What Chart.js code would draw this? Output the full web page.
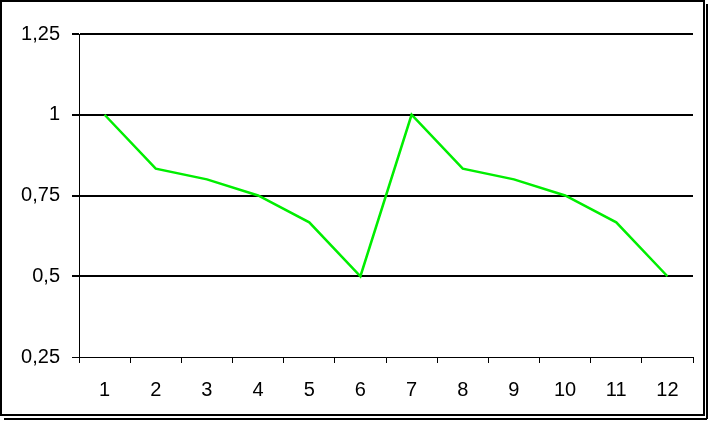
<!DOCTYPE html>
<html>
<head>
<meta charset="utf-8">
<script src="https://cdn.jsdelivr.net/npm/chart.js@4/dist/chart.umd.min.js"></script>
<style>
html,body{margin:0;padding:0;background:#fff;}
#wrap{position:relative;width:708px;height:426px;}
canvas{display:block;}
</style>
</head>
<body>
<div id="wrap"><canvas id="c" width="708" height="426"></canvas></div>
<script>
const categories = ['1','2','3','4','5','6','7','8','9','10','11','12'];
const values = [1, 0.833, 0.8, 0.75, 0.667, 0.5, 1, 0.833, 0.8, 0.75, 0.667, 0.5];
const yTicks = [0.25, 0.5, 0.75, 1, 1.25];

const frame = {
  id: 'frame',
  afterDraw(chart) {
    const ctx = chart.ctx;
    ctx.save();
    ctx.strokeStyle = '#000';
    ctx.lineWidth = 2;
    ctx.strokeRect(1, 1, 703, 414);
    ctx.beginPath();
    ctx.moveTo(4, 419); ctx.lineTo(707, 419);
    ctx.moveTo(707, 4); ctx.lineTo(707, 419);
    ctx.stroke();
    ctx.restore();
  }
};

const FONT = { family: 'Liberation Sans, Arial, sans-serif', size: 20 };

new Chart(document.getElementById('c'), {
  type: 'line',
  data: {
    labels: categories,
    datasets: [{
      data: values,
      borderColor: '#00ee00',
      borderWidth: 2.5,
      pointRadius: 0,
      tension: 0,
      fill: false
    }]
  },
  options: {
    responsive: false,
    animation: false,
    devicePixelRatio: 1,
    layout: { padding: { left: 0, right: 15, top: 34, bottom: 9 } },
    plugins: { legend: { display: false }, tooltip: { enabled: false } },
    scales: {
      x: {
        type: 'category',
        offset: true,
        grid: { offset: true, drawOnChartArea: false, drawTicks: true, tickLength: 6, color: '#000', lineWidth: 1 },
        border: { display: true, color: '#000', width: 1 },
        ticks: { color: '#000', font: FONT, padding: 15, maxRotation: 0, autoSkip: false }
      },
      y: {
        min: 0.25, max: 1.25,
        afterBuildTicks(axis) { axis.ticks = yTicks.map(v => ({ value: v })); },
        afterFit(axis) { axis.width = 79; },
        grid: {
          color: '#000',
          lineWidth: (c) => (c.tick && c.tick.value === 0.25) ? 1 : 2,
          drawTicks: true, tickLength: 7
        },
        border: { display: true, color: '#000', width: 1 },
        ticks: {
          color: '#000',
          font: FONT,
          padding: 12,
          callback: (v) => String(v).replace('.', ',')
        }
      }
    }
  },
  plugins: [frame]
});
</script>
</body>
</html>
